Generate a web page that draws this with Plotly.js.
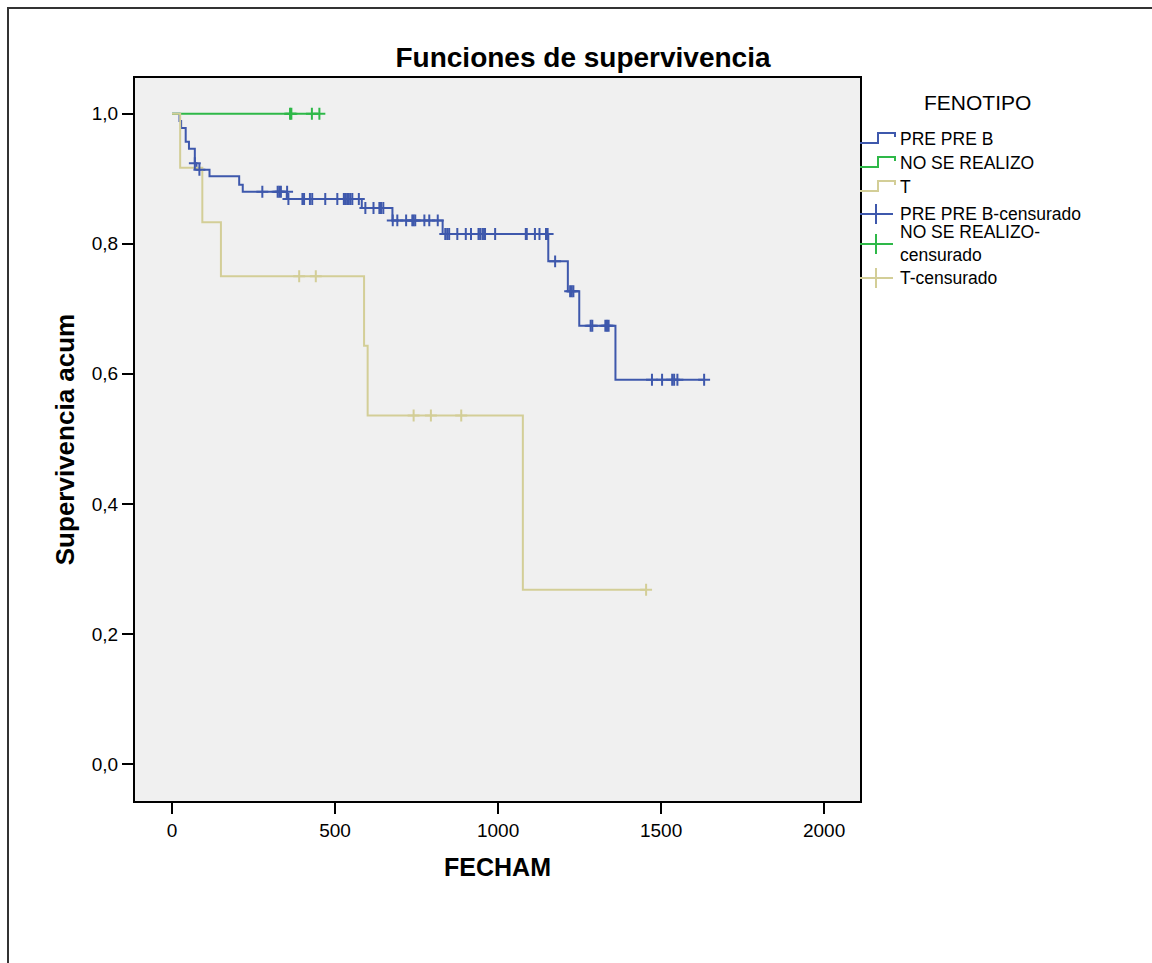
<!DOCTYPE html>
<html>
<head>
<meta charset="utf-8">
<script src="https://cdn.plot.ly/plotly-3.0.1.min.js"></script>
<style>
html,body{margin:0;padding:0;background:#fff;}
#wrap{position:relative;width:1152px;height:963px;overflow:hidden;}
#chart{position:absolute;left:0;top:0;width:1152px;height:963px;}
#frame{position:absolute;left:7px;top:7px;width:1200px;height:1000px;border-left:2px solid #333;border-top:2px solid #333;pointer-events:none;}
</style>
</head>
<body>
<div id="wrap"><div id="chart"></div><div id="frame"></div></div>
<script>
// ---- Data ----
// PRE PRE B step curve
const bTimes = [0, 23, 28, 42, 52, 70, 75, 115, 206, 217, 352, 582, 676, 830, 1154, 1214, 1249, 1360, 1632];
const bSurv  = [1.0, 0.989, 0.978, 0.957, 0.946, 0.924, 0.914, 0.904, 0.891, 0.880, 0.869, 0.855, 0.836, 0.815, 0.773, 0.727, 0.674, 0.591, 0.591];
// PRE PRE B censored
const bCensT = [70, 84, 277, 324, 329, 334, 353, 357, 400, 405, 423, 430, 470, 507, 527, 531, 537, 542, 547, 553, 573,
                593, 618, 636, 641, 648, 677, 691, 718, 737, 741, 746, 774, 789, 815,
                838, 844, 850, 875, 901, 917, 940, 945, 952, 957, 960, 991, 1085, 1088, 1113, 1127, 1147, 1150, 1152,
                1175, 1221, 1226, 1231, 1284, 1289, 1329, 1334, 1339, 1472, 1503, 1534, 1540, 1550, 1632];
const bCensS = [0.924, 0.914, 0.880, 0.880, 0.880, 0.880, 0.880, 0.869, 0.869, 0.869, 0.869, 0.869, 0.869, 0.869, 0.869, 0.869, 0.869, 0.869, 0.869, 0.869, 0.869,
                0.855, 0.855, 0.855, 0.855, 0.855, 0.836, 0.836, 0.836, 0.836, 0.836, 0.836, 0.836, 0.836, 0.836,
                0.815, 0.815, 0.815, 0.815, 0.815, 0.815, 0.815, 0.815, 0.815, 0.815, 0.815, 0.815, 0.815, 0.815, 0.815, 0.815, 0.815, 0.815, 0.815,
                0.773, 0.727, 0.727, 0.727, 0.674, 0.674, 0.674, 0.674, 0.674, 0.591, 0.591, 0.591, 0.591, 0.591, 0.591];
// NO SE REALIZO
const gTimes = [0, 452];
const gSurv  = [1.0, 1.0];
const gCensT = [362, 366, 429, 452];
const gCensS = [1.0, 1.0, 1.0, 1.0];
// T
const tTimes = [0, 25, 93, 150, 589, 600, 1076, 1454];
const tSurv  = [1.0, 0.917, 0.833, 0.750, 0.643, 0.536, 0.268, 0.268];
const tCensT = [390, 441, 741, 794, 887, 1454];
const tCensS = [0.750, 0.750, 0.536, 0.536, 0.536, 0.268];

const xTicks = [0, 500, 1000, 1500, 2000];
const yTicks = [0, 0.2, 0.4, 0.6, 0.8, 1.0];
const legendLabels = ["PRE PRE B", "NO SE REALIZO", "T", "PRE PRE B-censurado", "NO SE REALIZO-<br>censurado", "T-censurado"];

const cBlue = "rgb(62,88,172)", cGreen = "rgb(46,184,72)", cTan = "rgb(211,206,151)";
const FONT = "Liberation Sans, Arial, sans-serif";

function stepTrace(x, y, c){ return {x:x, y:y, type:"scatter", mode:"lines", line:{shape:"hv", color:c, width:2}, hoverinfo:"skip", showlegend:false}; }
function censTrace(x, y, c){ return {x:x, y:y, type:"scatter", mode:"markers", marker:{symbol:"cross-thin", size:8.5, line:{color:c, width:2}}, hoverinfo:"skip", showlegend:false}; }

const data = [
  stepTrace(bTimes, bSurv, cBlue),
  stepTrace(gTimes, gSurv, cGreen),
  stepTrace(tTimes, tSurv, cTan),
  censTrace(bCensT, bCensS, cBlue),
  censTrace(gCensT, gCensS, cGreen),
  censTrace(tCensT, tCensS, cTan)
];

// plot area in pixels
const L = 135, R = 860, T = 78, B = 801, W = 1152, H = 963;
const px = v => (v - L) / (R - L);
const py = v => (B - v) / (B - T);

// Custom legend
const annotations = [];
const shapes = [];
annotations.push({xref:"paper", yref:"paper", x:px(977), y:py(102), text:"FENOTIPO", showarrow:false,
  xanchor:"center", yanchor:"middle", font:{family:FONT, size:21, color:"#000"}});
const lineRows = [139, 163, 187];
const lineCols = [cBlue, cGreen, cTan];
for (let i = 0; i < 3; i++) {
  const yc = lineRows[i];
  annotations.push({xref:"paper", yref:"paper", x:px(898), y:py(yc), text:legendLabels[i], showarrow:false,
    xanchor:"left", yanchor:"middle", font:{family:FONT, size:17.5, color:"#000"}});
  shapes.push({type:"path", xref:"paper", yref:"paper",
    path:`M ${px(860)} ${py(yc+4)} L ${px(878)} ${py(yc+4)} L ${px(878)} ${py(yc-6)} L ${px(895)} ${py(yc-6)} L ${px(895)} ${py(yc-2)}`,
    line:{color:lineCols[i], width:2}});
}
const censRows = [214, 244, 278];
for (let i = 0; i < 3; i++) {
  const yc = censRows[i];
  annotations.push({xref:"paper", yref:"paper", x:px(898), y:py(yc), text:legendLabels[3+i], showarrow:false,
    xanchor:"left", yanchor:"middle", align:"left", font:{family:FONT, size:17.5, color:"#000"}});
  shapes.push({type:"line", xref:"paper", yref:"paper", x0:px(860), x1:px(893), y0:py(yc), y1:py(yc), line:{color:lineCols[i], width:2}});
  shapes.push({type:"line", xref:"paper", yref:"paper", x0:px(876), x1:px(876), y0:py(yc-10), y1:py(yc+10), line:{color:lineCols[i], width:2}});
}

const layout = {
  width: W, height: H,
  margin: {l:L, r:W-R, t:T, b:H-B, autoexpand:false},
  paper_bgcolor: "#ffffff",
  plot_bgcolor: "#f0f0f0",
  separators: ", ",
  showlegend: false,
  font: {family: FONT, color: "#000"},
  title: {text: "Funciones de supervivencia", x: 583/W, xanchor: "center", xref: "container",
          y: 1 - 57/H, yanchor: "middle", yref: "container",
          font: {family: FONT, size: 28, weight: "bold", color: "#000"}},
  xaxis: {
    range: [-113.5, 2110], tickvals: xTicks, ticktext: xTicks.map(String),
    ticks: "outside", ticklen: 11, tickwidth: 2, tickcolor: "#000",
    showline: true, mirror: true, linecolor: "#000", linewidth: 2,
    showgrid: false, zeroline: false, automargin: false,
    tickfont: {family: FONT, size: 19, color: "#000"},
    title: {text: "FECHAM", standoff: 19, font: {family: FONT, size: 25, weight: "bold", color: "#000"}}
  },
  yaxis: {
    range: [-0.057, 1.055], tickvals: yTicks, tickformat: ".1f",
    ticks: "outside", ticklen: 11, tickwidth: 2, tickcolor: "#000",
    showline: true, mirror: true, linecolor: "#000", linewidth: 2,
    showgrid: false, zeroline: false, automargin: false,
    tickfont: {family: FONT, size: 19, color: "#000"},
    title: {text: "Supervivencia acum", standoff: 10, font: {family: FONT, size: 26, weight: "bold", color: "#000"}}
  },
  annotations: annotations,
  shapes: shapes
};

Plotly.newPlot("chart", data, layout, {displayModeBar: false, staticPlot: true});
</script>
</body>
</html>
